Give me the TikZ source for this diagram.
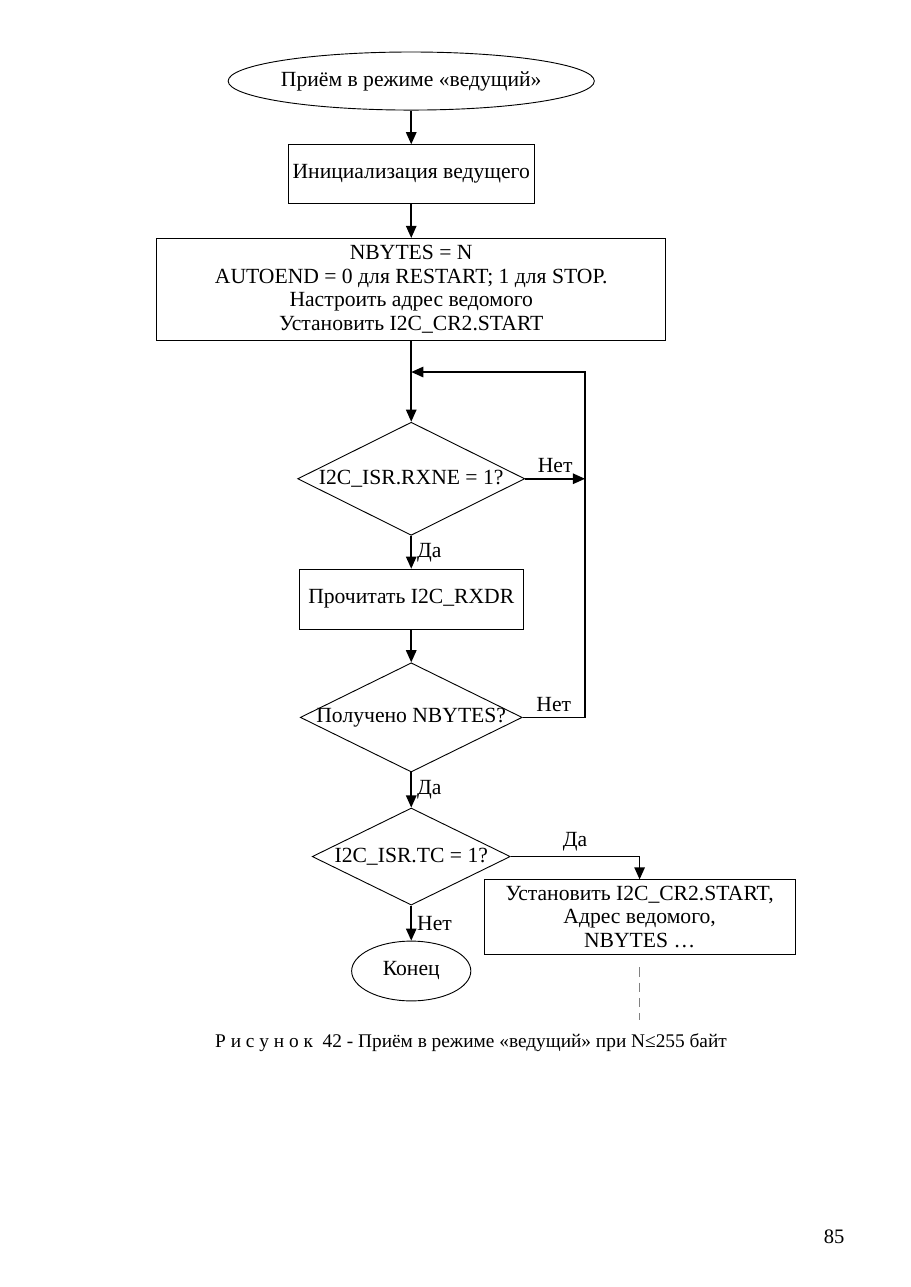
\documentclass[tikz,border=0pt]{standalone}
\usepackage{fontspec}
\setmainfont{Liberation Serif}
\usetikzlibrary{shapes.geometric, positioning, arrows.meta}

\begin{document}
\begin{tikzpicture}[font=\fontsize{14.2}{15.5}\selectfont,
    >={Triangle[length=2.8mm,width=2.4mm]},
    term/.style={ellipse, draw, line width=0.6pt, inner sep=0pt},
    proc/.style={rectangle, draw, line width=0.6pt, align=center, inner sep=1pt},
    decision/.style={diamond, draw, line width=0.6pt, inner sep=0pt},
    flow/.style={->, line width=1.1pt}]

    \useasboundingbox (0,0) rectangle (21,-29.7);

    % Add the blocks
        \node[term,
              minimum width=8.45cm,
              minimum height=1.34cm] (start) at (9.49,-1.87) {\makebox[0pt]{Приём в режиме «ведущий»}};
        \node[proc,
              below=0.78cm of start,
              minimum width=5.68cm,
              minimum height=1.36cm] (init) {Инициализация ведущего};
        \node[proc,
              below=0.78cm of init,
              minimum width=11.75cm,
              minimum height=2.35cm] (setup) {NBYTES = N\\
                AUTOEND = 0 для RESTART; 1 для STOP.\\
                Настроить адрес ведомого\\
                Установить I2C\_CR2.START};
        \node[decision,
              below=1.87cm of setup,
              minimum width=5.24cm,
              minimum height=2.61cm] (rxne) {\makebox[0pt]{I2C\_ISR.RXNE = 1?}};
        \node[proc,
              below=0.76cm of rxne,
              minimum width=5.17cm,
              minimum height=1.38cm] (read) {Прочитать I2C\_RXDR};
        \node[decision,
              below=0.76cm of read,
              minimum width=5.12cm,
              minimum height=2.52cm] (cnt) {\makebox[0pt]{Получено NBYTES?}};
        \node[decision,
              below=0.81cm of cnt,
              minimum width=4.57cm,
              minimum height=2.24cm] (tc) {\makebox[0pt]{I2C\_ISR.TC = 1?}};
        \node[term,
              below=0.81cm of tc,
              minimum width=2.75cm,
              minimum height=1.38cm] (stop) {Конец};
        \node[proc,
              minimum width=7.18cm,
              minimum height=1.71cm] (restart) at (14.76,-21.16) {Установить I2C\_CR2.START,\\
                Адрес ведомого,\\
                NBYTES \dots};

    % Loop points
        \coordinate (loop) at (13.5,-8.585);
        \coordinate (merge) at (setup.south |- loop);
        \coordinate (more) at (14.76,-23.54);

    % Add the connectors
        \draw[flow] (start) -- (init);
        \draw[flow] (init) -- (setup);
        \draw[flow] (setup) -- (rxne);
        \draw[flow] (rxne.east) -- node[midway, above] {Нет} (rxne.east -| loop);
        \draw[flow] (rxne) -- node[midway, right] {Да} (read);
        \draw[flow] (read) -- (cnt);
        \draw[flow] (cnt.east) -- node[midway, above] {Нет} (cnt.east -| loop) -- (loop) -- (merge);
        \draw[flow] (cnt) -- node[midway, right] {Да} (tc);
        \draw[flow] (tc.east) -- node[midway, above] {Да} (tc.east -| restart) -- (restart.north);
        \draw[flow] (tc) -- node[midway, right] {Нет} (stop);
        \draw[gray, line width=0.6pt, dash pattern=on 6pt off 4pt] (restart.south) ++(0,-0.3) -- (more);

    % Caption and page number
        \node[font=\fontsize{12.7}{15}\selectfont] (caption) at (10.87,-24.07) {Р и с у н о к\ \ 42 - Приём в режиме «ведущий» при N≤255 байт};
        \node[font=\fontsize{13.5}{16}\selectfont] (pagenum) at (19.25,-28.55) {85};
\end{tikzpicture}
\end{document}
